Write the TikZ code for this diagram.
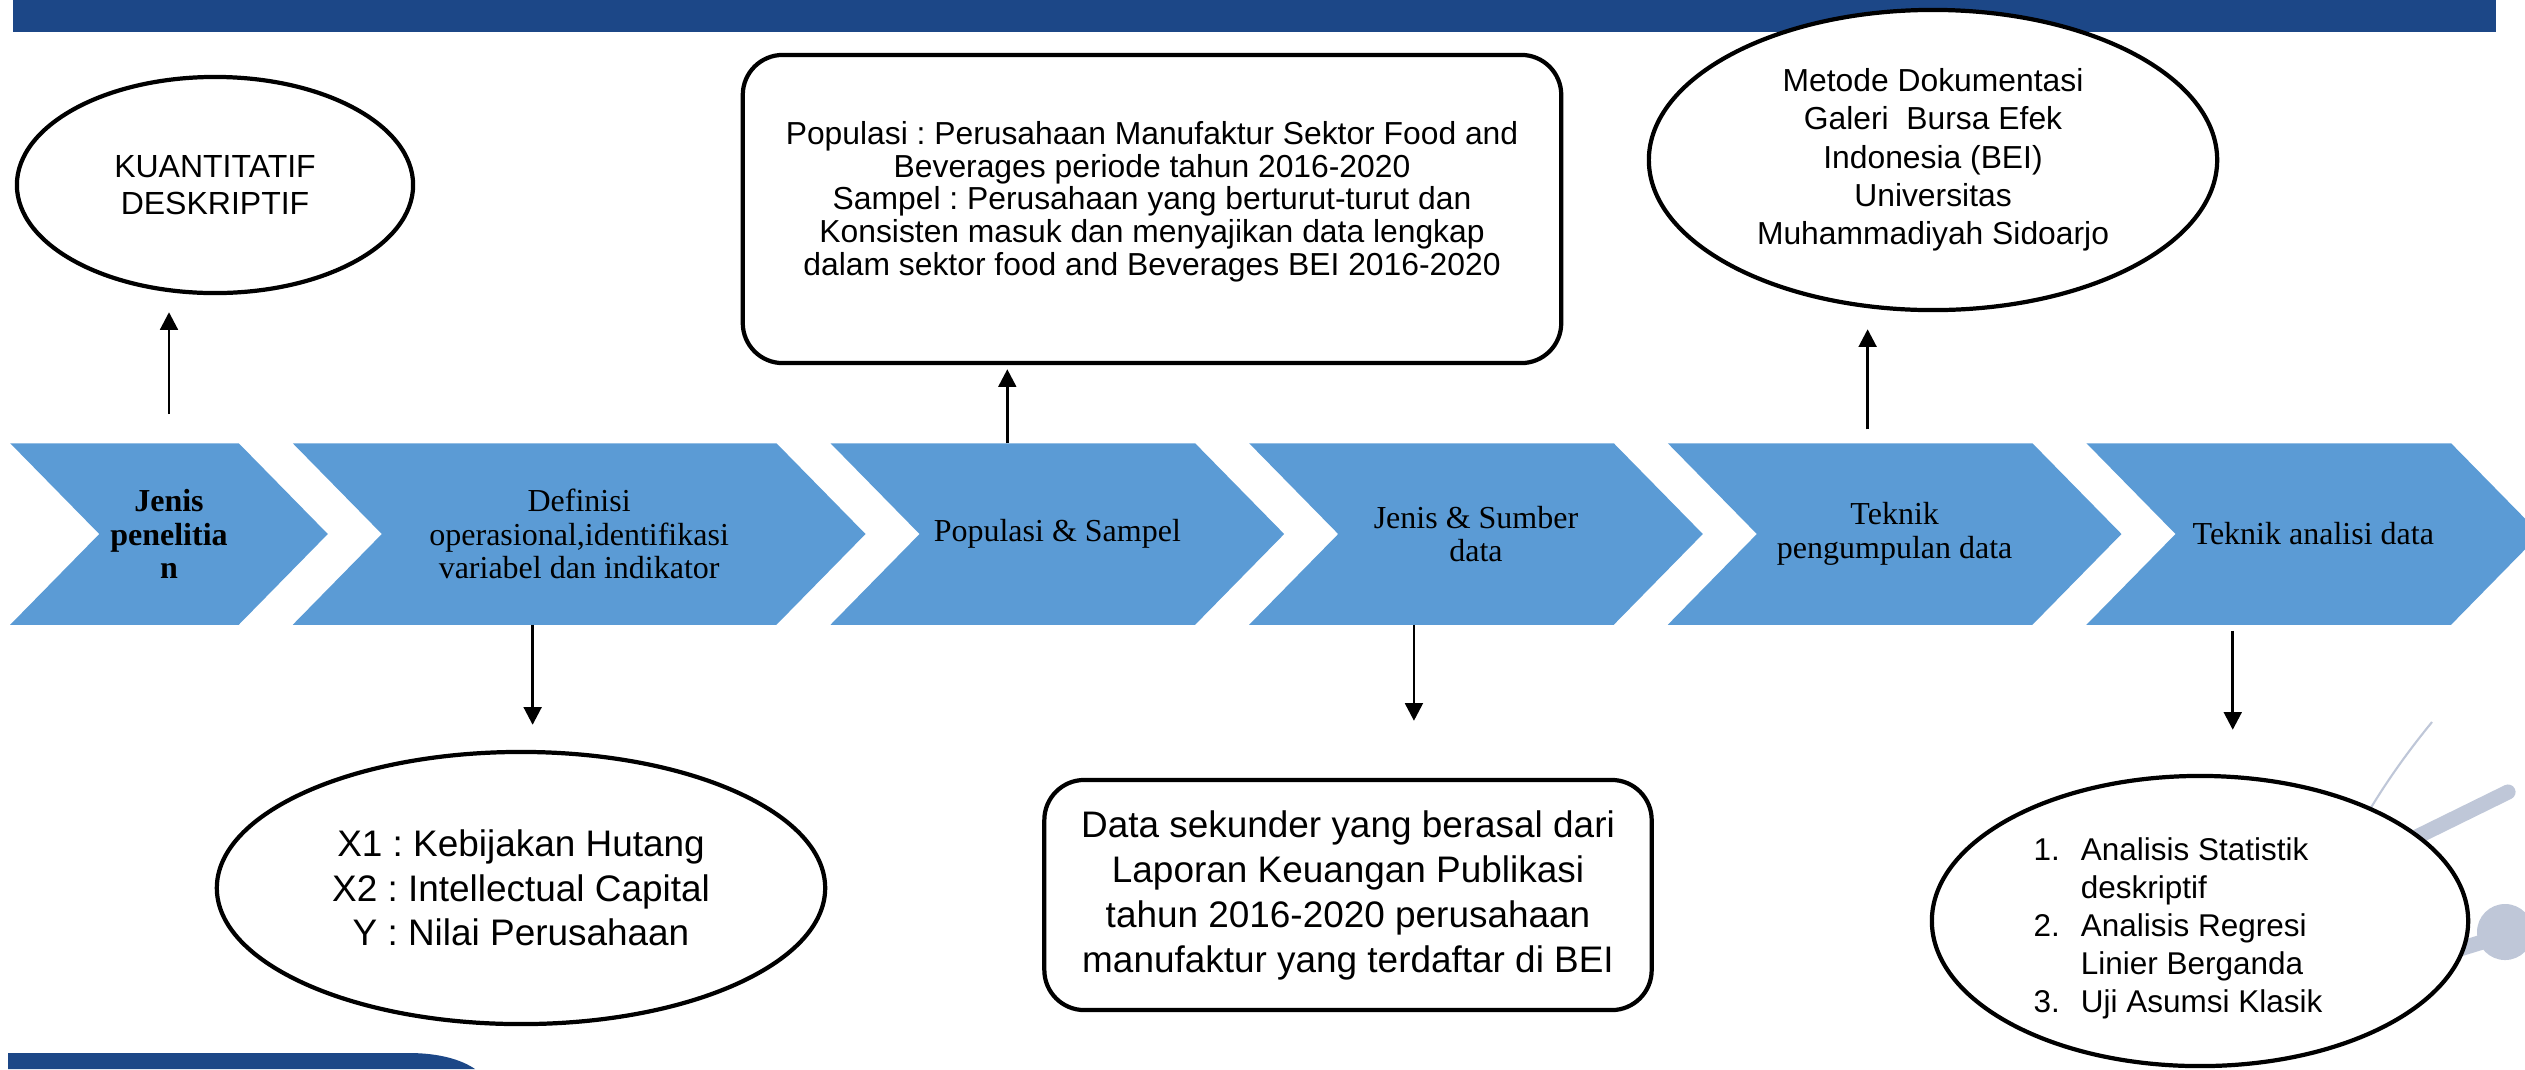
\documentclass[tikz,border=0pt]{standalone}
\usepackage{fontspec}
\setmainfont{Liberation Serif}
\setsansfont{Liberation Sans}
\usetikzlibrary{positioning, shapes.geometric, arrows.meta, backgrounds}
\frenchspacing

\definecolor{barblue}{RGB}{28,71,135}
\definecolor{chevblue}{RGB}{91,155,213}
\definecolor{decogrey}{RGB}{191,199,216}

\newcommand{\chevfont}{\rmfamily\fontsize{9.1}{9.6}\selectfont}

\tikzset{
  chev/.style={minimum height=1.8cm, inner sep=0pt, align=center, font=\chevfont},
  oval/.style={ellipse, draw, line width=1.2pt, fill=white, inner sep=0pt, align=center},
  rbox/.style={rectangle, rounded corners=0.4cm, draw, line width=1.2pt, fill=white, inner sep=0pt, align=center},
  arr/.style={-{Triangle[length=5pt,width=5pt]}, line width=0.8pt},
}

\begin{document}
\begin{tikzpicture}[x=0.01cm, y=-0.01cm, node distance=1.43cm]
  \useasboundingbox (0,0) rectangle (2525,1069);
  % bars
  \fill[barblue] (13,0) rectangle (2496,32);
  \fill[barblue] (8,1053) -- (409,1053) .. controls (440,1053) and (462,1060) .. (475,1069) -- (8,1069) -- cycle;
  % logo strokes
  \draw[decogrey, line width=0.6pt] (2432,722) .. controls (2405,755) and (2380,790) .. (2355,835);
  \draw[decogrey, line width=4.3pt, line cap=round] (2508,792) -- (2390,850);
  \fill[decogrey] (2505,932) circle[radius=0.28cm];
  \draw[decogrey, line width=4.3pt] (2505,935) -- (2440,955);

  % steps
  \node[chev, minimum width=1.38cm, font=\chevfont\bfseries] (jen) at (169,534) {Jenis\\penelitia\\n};
  \node[chev, minimum width=3.93cm] (def) [right=of jen] {Definisi\\operasional,identifikasi\\variabel dan indikator};
  \node[chev, minimum width=2.74cm] (pop) [right=of def] {Populasi \& Sampel};
  \node[chev, minimum width=2.74cm] (sum) [right=of pop] {Jenis \& Sumber\\data};
  \node[chev, minimum width=2.74cm] (tek) [right=of sum] {Teknik\\pengumpulan data};
  \node[chev, minimum width=2.74cm] (ana) [right=of tek] {Teknik analisi data};
  \begin{scope}[on background layer]
    \foreach \ch in {jen,def,pop,sum,tek,ana}
      \fill[chevblue] ([xshift=-0.89cm]\ch.north west) -- (\ch.north east) -- ([xshift=0.89cm]\ch.east)
        -- (\ch.south east) -- ([xshift=-0.89cm]\ch.south west) -- (\ch.west) -- cycle;
  \end{scope}

  % details
  \node[oval, minimum width=3.96cm, minimum height=2.16cm, font=\sffamily\fontsize{9.1}{10.7}\selectfont] (kuan) at (215,185) {KUANTITATIF\\DESKRIPTIF};
  \node[oval, minimum width=6.08cm, minimum height=2.72cm, font=\sffamily\fontsize{10.5}{12.6}\selectfont] (var) at (521,888) {X1 : Kebijakan Hutang\\X2 : Intellectual Capital\\Y : Nilai Perusahaan};
  \node[rbox, minimum width=8.18cm, minimum height=3.08cm, font=\sffamily\fontsize{9.05}{9.1}\selectfont] (popbox) at (1152,209) {\raisebox{0.06cm}[\height][\depth]{\begin{tabular}{@{}c@{}}
    Populasi : Perusahaan Manufaktur Sektor Food and\\Beverages periode tahun 2016-2020\\Sampel : Perusahaan yang berturut-turut dan\\Konsisten masuk dan menyajikan data lengkap\\dalam sektor food and Beverages BEI 2016-2020
  \end{tabular}}};
  \node[rbox, minimum width=6.07cm, minimum height=2.3cm, font=\sffamily\fontsize{10.5}{12.8}\selectfont] (datbox) at (1348,895) {Data sekunder yang berasal dari\\Laporan Keuangan Publikasi\\tahun 2016-2020 perusahaan\\manufaktur yang terdaftar di BEI};
  \node[oval, minimum width=5.68cm, minimum height=3.0cm, font=\sffamily\fontsize{9.05}{10.9}\selectfont] (metode) at (1933,160) {Metode Dokumentasi\\Galeri\ \ Bursa Efek\\Indonesia (BEI)\\Universitas\\Muhammadiyah Sidoarjo};
  \node[oval, minimum width=5.36cm, minimum height=2.9cm, font=\sffamily\fontsize{8.95}{10.8}\selectfont] (analisis) at (2200,921) {\raisebox{-0.08cm}[\height][\depth]{\begin{tabular}{@{}l@{\hspace{0.21cm}}l@{\hspace{0.44cm}}}
    1. & Analisis Statistik\\ & deskriptif\\ 2. & Analisis Regresi\\ & Linier Berganda\\ 3. & Uji Asumsi Klasik
  \end{tabular}}};

  % arrows
  \draw[arr, shorten <=0.29cm, shorten >=0.17cm] (jen.north) -- (jen.north |- kuan.south);
  \draw[arr, shorten >=0.25cm] ([xshift=-0.465cm]def.south) -- ([xshift=-0.465cm]def.south |- var.north);
  \draw[arr, shorten >=0.04cm] ([xshift=-0.5cm]pop.north) -- ([xshift=-0.5cm]pop.north |- popbox.south);
  \draw[arr, shorten >=0.57cm] ([xshift=-0.62cm]sum.south) -- ([xshift=-0.62cm]sum.south |- datbox.north);
  \draw[arr, shorten <=0.14cm, shorten >=0.17cm] ([xshift=-0.27cm]tek.north) -- ([xshift=-0.27cm]tek.north |- metode.south);
  \draw[arr, shorten <=0.06cm, shorten >=0.44cm] ([xshift=-0.805cm]ana.south) -- ([xshift=-0.805cm]ana.south |- analisis.north);
\end{tikzpicture}
\end{document}
